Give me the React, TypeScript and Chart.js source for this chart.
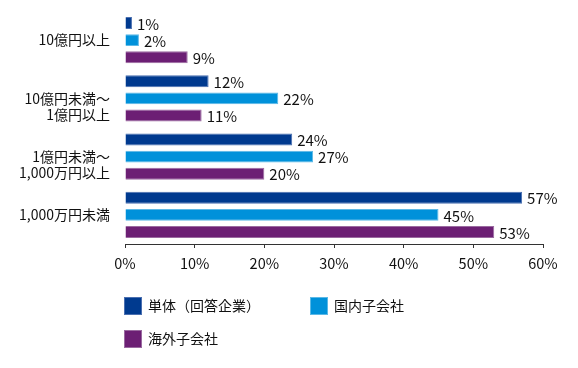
import React, { useEffect, useRef } from "react";
import { Chart, registerables } from "chart.js";

Chart.register(...registerables);

const categories: string[][] = [
  ["10億円以上"],
  ["10億円未満～", "1億円以上"],
  ["1億円未満～", "1,000万円以上"],
  ["1,000万円未満"],
];
const seriesNames = ["単体（回答企業）", "国内子会社", "海外子会社"];
const tanTai = [1, 12, 24, 57];
const kokunai = [2, 22, 27, 45];
const kaigai = [9, 11, 20, 53];
const xTicks = [0, 10, 20, 30, 40, 50, 60];

const colors = ["#003A8F", "#0091DA", "#6C1F74"];
const borders = ["#4A6FB0", "#5BB8E6", "#9A6AA0"];
const FONT = '"Noto Sans CJK JP", "Noto Sans", sans-serif';

const valueLabels = {
  id: "valueLabels",
  afterDatasetsDraw(chart: any) {
    const ctx = chart.ctx;
    ctx.save();
    ctx.font = `15px ${FONT}`;
    ctx.fillStyle = "#111";
    ctx.textAlign = "left";
    ctx.textBaseline = "middle";
    chart.data.datasets.forEach((ds: any, i: number) => {
      const meta = chart.getDatasetMeta(i);
      meta.data.forEach((bar: any, j: number) => {
        ctx.fillText(`${ds.data[j]}%`, bar.x + 5, bar.y + 1);
      });
    });
    ctx.restore();
  },
};

const customLegend = {
  id: "customLegend",
  afterDraw(chart: any) {
    const ctx = chart.ctx;
    const positions = [
      { x: 124, y: 297 },
      { x: 310, y: 297 },
      { x: 124, y: 330 },
    ];
    ctx.save();
    ctx.font = `14px ${FONT}`;
    ctx.textBaseline = "middle";
    ctx.textAlign = "left";
    chart.data.datasets.forEach((ds: any, i: number) => {
      const p = positions[i];
      ctx.fillStyle = ds.backgroundColor;
      ctx.fillRect(p.x, p.y, 18, 18);
      ctx.strokeStyle = ds.borderColor;
      ctx.lineWidth = 1;
      ctx.strokeRect(p.x + 0.5, p.y + 0.5, 17, 17);
      ctx.fillStyle = "#111";
      ctx.fillText(ds.label, p.x + 24, p.y + 9);
    });
    ctx.restore();
  },
};

export default function App() {
  const ref = useRef<HTMLCanvasElement | null>(null);
  useEffect(() => {
    if (!ref.current) return;
    const chart = new Chart(ref.current, {
      type: "bar",
      data: {
        labels: categories as any,
        datasets: [tanTai, kokunai, kaigai].map((d, i) => ({
          label: seriesNames[i],
          data: d,
          backgroundColor: colors[i],
          borderColor: borders[i],
          borderWidth: 1,
          categoryPercentage: 0.88,
          barPercentage: 0.7,
        })),
      },
      options: {
        indexAxis: "y",
        animation: false,
        responsive: false,
        maintainAspectRatio: false,
        layout: { padding: { top: 11, right: 35, bottom: 0, left: 0 } },
        plugins: {
          legend: { display: false },
          tooltip: { enabled: false },
        },
        scales: {
          x: {
            min: 0,
            max: 60,
            afterFit: (s: any) => {
              s.height = 124;
            },
            afterBuildTicks: (s: any) => {
              s.ticks = xTicks.map((v) => ({ value: v }));
            },
            grid: {
              display: true,
              drawOnChartArea: false,
              drawTicks: true,
              tickLength: 4,
              tickColor: "#333",
            },
            border: { display: true, color: "#333", width: 1 },
            ticks: {
              padding: 7,
              color: "#111",
              font: { family: FONT, size: 14.5 },
              callback: (v: any) => `${v}%`,
            },
          },
          y: {
            afterFit: (s: any) => {
              s.width = 125;
              s.paddingTop = 0;
              s.paddingBottom = 0;
            },
            grid: { display: false, drawTicks: false },
            border: { display: false },
            ticks: {
              padding: 15,
              color: "#111",
              font: { family: FONT, size: 14, lineHeight: 1.15 },
              callback: function (this: any, v: any, i: number) {
                const lines = categories[i];
                return lines.length > 1 ? ["", ...lines] : lines[0];
              },
            },
          },
        },
      },
      plugins: [valueLabels, customLegend],
    });
    return () => chart.destroy();
  }, []);
  return (
    <div style={{ position: "fixed", left: 0, top: 0, width: 578, height: 368, background: "#fff" }}>
      <canvas ref={ref} width={578} height={368} style={{ width: 578, height: 368, display: "block" }} />
    </div>
  );
}
